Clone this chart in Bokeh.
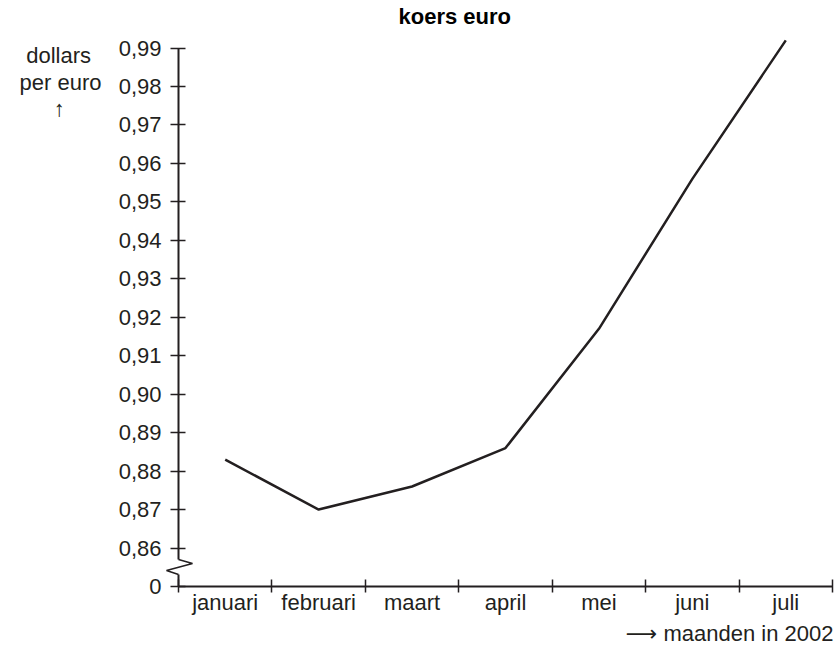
from bokeh.plotting import figure
from bokeh.models import Range1d, FixedTicker, LinearAxis, Title
from bokeh.embed import file_html
from bokeh.resources import INLINE

# ---- data ----
months = ["januari", "februari", "maart", "april", "mei", "juni", "juli"]
rates = [0.883, 0.870, 0.876, 0.886, 0.917, 0.956, 0.992]
y_ticks = [0.86, 0.87, 0.88, 0.89, 0.90, 0.91, 0.92, 0.93, 0.94, 0.95, 0.96, 0.97, 0.98, 0.99]
y_tick_labels = ["0,86", "0,87", "0,88", "0,89", "0,90", "0,91", "0,92", "0,93",
                 "0,94", "0,95", "0,96", "0,97", "0,98", "0,99"]
zero_pos = 0.85          # where the broken axis shows "0"
zero_label = "0"
title_text = "koers euro"
y_label_lines = ["dollars", "per euro", "\u2191"]
x_label_text = "\u27f6 maanden in 2002"

# ---- layout constants ----
W, H = 836, 648
FRAME_L, FRAME_R, FRAME_T, FRAME_B = 162, 832, 28, 586
AXIS_PX = 178            # page x of the (hand drawn) y axis line
Y_END = 0.99509
FONT = "Liberation Sans, DejaVu Sans"
INK = "#231f20"
NB = "\u00a0"

x_centers = [i + 0.5 for i in range(len(months))]
x_bounds = [float(i) for i in range(len(months) + 1)]
x_end = float(len(months))
XU = (FRAME_R - AXIS_PX) / x_end
X_START = -(AXIS_PX - FRAME_L) / XU

p = figure(width=W, height=H, output_backend="svg", toolbar_location=None,
           x_range=Range1d(X_START, x_end), y_range=Range1d(zero_pos, Y_END),
           min_border_left=FRAME_L, min_border_right=W - FRAME_R,
           min_border_top=FRAME_T, min_border_bottom=H - FRAME_B)
p.outline_line_color = None
p.grid.visible = False

# pixel -> data helpers (for the axis break only)
YU = (FRAME_B - FRAME_T) / (Y_END - zero_pos)
def dx(px):
    return X_START + (px - FRAME_L) / XU
def dy(py):
    return zero_pos + (FRAME_B - py) / YU

# title
p.title.text = title_text
p.title.align = "left"
p.title.offset = 236
p.title.standoff = 0
p.title.text_font = FONT
p.title.text_font_size = "22px"
p.title.text_font_style = "bold"
p.title.text_color = "black"

# x axis
xa = p.xaxis[0]
xa.ticker = FixedTicker(ticks=x_centers, minor_ticks=x_bounds)
xa.major_label_overrides = {c: m for c, m in zip(x_centers, months)}
xa.bounds = (0, x_end)
xa.major_tick_in = 0
xa.major_tick_out = 0
xa.minor_tick_in = 7
xa.minor_tick_out = 6
xa.minor_tick_line_color = INK
xa.minor_tick_line_width = 1.5
xa.axis_line_color = INK
xa.axis_line_width = 2
xa.major_label_standoff = -3
xa.major_label_text_font = FONT
xa.major_label_text_font_size = "22px"
xa.major_label_text_color = INK

# y axis at the frame edge; ticks pushed right so they cross the drawn axis line
ya = p.yaxis[0]
ya.ticker = FixedTicker(ticks=[zero_pos] + y_ticks, minor_ticks=[])
ov = {t: l for t, l in zip(y_ticks, y_tick_labels)}
ov[zero_pos] = zero_label
ya.major_label_overrides = ov
ya.axis_line_color = None
ya.major_tick_in = 23
ya.major_tick_out = -8
ya.major_tick_line_color = INK
ya.major_tick_line_width = 1.5
ya.minor_tick_line_color = None
ya.major_label_standoff = 1
ya.major_label_text_font = FONT
ya.major_label_text_font_size = "22px"
ya.major_label_text_color = INK

# y axis title: horizontal, anchored at the top end of the axis;
# blank lines above push the words down, nbsp padding centres the lines
pad = [NB + "\u2009", "", NB * 6]
y_label_text = "\n".join([NB] * 4 + [l + s for l, s in zip(y_label_lines, pad)])
yt = LinearAxis(ticker=FixedTicker(ticks=[], minor_ticks=[]),
                axis_line_color=None, major_tick_in=0, major_tick_out=0,
                minor_tick_in=0, minor_tick_out=0, major_label_standoff=0,
                axis_label=y_label_text, axis_label_standoff=14,
                axis_label_orientation="horizontal",
                axis_label_text_font=FONT, axis_label_text_font_size="22px",
                axis_label_text_font_style="normal", axis_label_text_color=INK,
                axis_label_text_line_height=1.07)
try:
    yt.axis_label_align = "end"
except Exception:
    pass
p.add_layout(yt, "left")

# x axis title, bottom right
xt = Title(text=x_label_text, align="right", offset=-1, standoff=3,
           text_font=FONT, text_font_size="22px", text_font_style="normal",
           text_color=INK)
p.add_layout(xt, "below")

# y axis line with the break (zig-zag)
p.line([0, 0], [y_ticks[-1], dy(559)], line_color=INK, line_width=2)
p.line([0, dx(192), dx(166), 0], [dy(559), dy(563), dy(570), dy(574)],
       line_color=INK, line_width=1.5)
p.line([0, 0], [dy(574), zero_pos], line_color=INK, line_width=2)

# data line
p.line(x_centers, rates, line_color=INK, line_width=2.5, line_join="round")

open("out.html", "w").write(file_html(p, INLINE))
